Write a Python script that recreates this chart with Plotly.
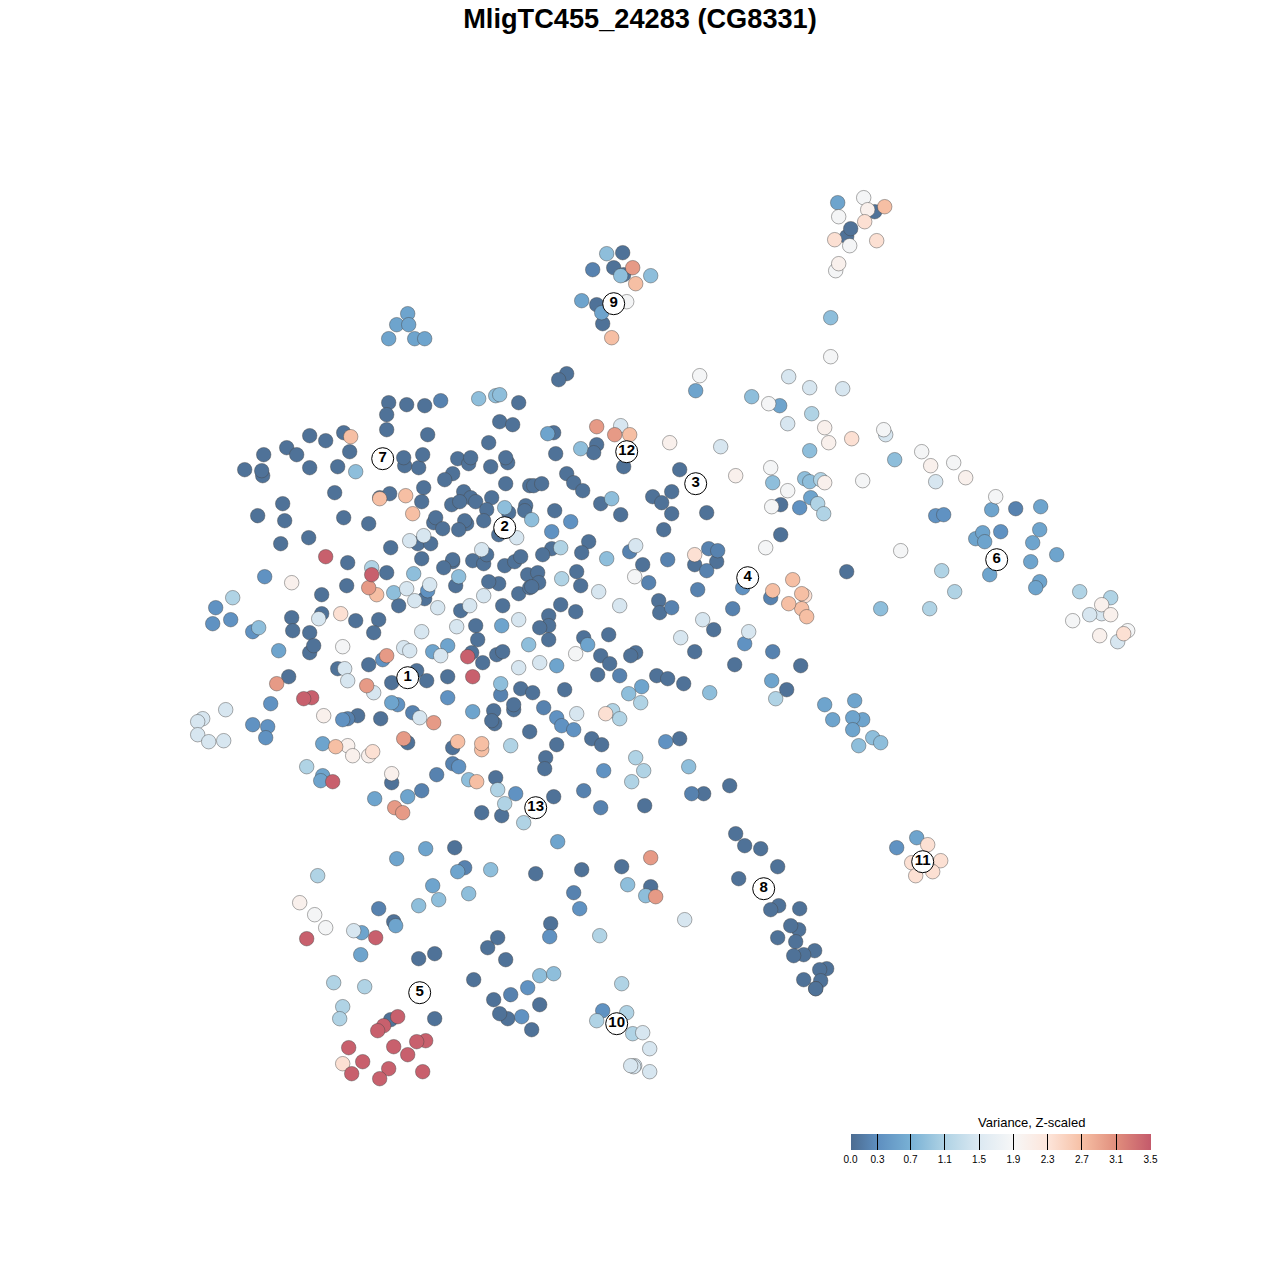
import plotly.graph_objects as go

title_text = "MligTC455_24283 (CG8331)"
legend_title = "Variance, Z-scaled"
tick_values = [0.0, 0.315, 0.7, 1.1, 1.5, 1.9, 2.3, 2.7, 3.1, 3.5]
tick_labels = ["0.0", "0.3", "0.7", "1.1", "1.5", "1.9", "2.3", "2.7", "3.1", "3.5"]

# (tSNE x, tSNE y) of the cells, grouped by variance
dark_cells = [(388,402),(406,404),(424,405),(386,414),(386,429),(427,434),(309,435),(325,440),(343,432),(349,451),(286,447),(296,454),(263,454),(244,469),(262,475),(261,470),(309,467),(337,466),(334,492),(282,503),(257,515),(284,520),(343,517),(368,523),(308,537),(280,543),(404,465),(403,457),(418,467),(422,454),(457,458),(468,463),(470,457),(490,466),(507,462),(505,457),(488,442),(499,421),(512,424),(518,402),(452,473),(444,479),(423,487),(379,497),(389,493),(421,501),(505,483),(463,491),(470,497),(451,504),(459,501),(475,501),(491,497),(486,509),(525,505),(524,510),(529,485),(508,512),(433,522),(435,517),(442,528),(466,523),(464,520),(458,529),(483,520),(498,534),(417,543),(430,543),(390,547),(421,558),(452,561),(452,559),(443,567),(472,560),(483,563),(486,554),(504,565),(514,561),(520,556),(527,574),(537,572),(347,562),(386,572),(346,585),(321,594),(498,583),(488,581),(518,593),(529,587),(455,585),(424,598),(398,605),(460,610),(502,605),(291,617),(321,613),(355,620),(378,619),(292,630),(309,632),(373,632),(475,625),(477,639),(309,652),(313,645),(496,654),(502,651),(471,652),(482,662),(368,664),(337,668),(416,670),(288,676),(391,682),(426,680),(447,676),
 (553,432),(555,453),(596,444),(593,452),(623,466),(566,473),(573,482),(582,490),(533,485),(541,483),(600,503),(620,514),(554,510),(679,469),(671,491),(652,496),(661,502),(671,513),(706,512),(663,529),(588,541),(581,552),(551,548),(542,554),(642,564),(694,564),(716,561),(576,571),(580,585),(538,582),(531,586),(658,600),(659,612),(713,629),(694,651),(734,664),(560,604),(575,611),(548,615),(548,625),(539,627),(548,639),(608,634),(583,637),(600,655),(609,663),(597,674),(635,652),(630,655),(656,675),(667,678),(683,683),
 (520,688),(532,692),(564,689),(493,710),(513,709),(513,704),(494,723),(491,720),(529,731),(591,738),(601,744),(679,738),(556,744),(545,757),(544,768),(495,777),(481,812),(501,815),(553,796),(644,805),(703,793),(729,785),(735,833),(744,845),(760,848),(777,866),(738,878),(778,905),(770,909),(799,908),(798,929),(790,925),(777,937),(795,941),(814,950),(803,954),(793,955),(826,968),(819,969),(803,979),(820,980),(815,988),(815,988),
 (380,718),(357,715),(452,747),(407,742),(454,847),(535,873),(581,869),(621,866),(650,886),(550,923),(497,937),(487,947),(505,959),(434,953),(418,958),(473,979),(493,999),(539,1004),(507,1018),(499,1013),(531,1029),(434,1018),(390,1019),(393,921),(566,373),(558,379),(602,323),(622,252),(613,267),(623,274),(596,304),(874,211),(846,236),(850,228),(846,571),(780,504),(780,534),(800,665),(786,689),(391,782)]
steel_cells = [(440,400),(347,718),(412,712),(436,774),(452,763),(421,790),(464,867),(378,908),(510,994),(573,892),(583,790),(600,807),(691,793),(543,707),(619,675),(629,551),(667,559),(708,548),(717,550),(706,570),(648,582),(697,589),(671,607),(732,608),(770,597),(1015,508),(592,269),(500,694),(772,651)]
blue_cells = [(264,576),(215,607),(212,623),(230,619),(252,631),(427,590),(382,659),(270,703),(252,724),(267,726),(265,737),(342,719),(397,704),(447,697),(458,766),(515,793),(556,717),(561,725),(573,729),(665,741),(603,770),(570,521),(551,531),(742,587),(744,643),(799,507),(935,515),(943,514),(1000,531),(896,847),(602,1010),(549,936),(579,908),(521,1016),(527,987)]
mid_cells = [(278,650),(432,651),(447,645),(501,625),(391,702),(472,711),(322,775),(320,780),(374,798),(407,796),(425,848),(556,665),(641,686),(547,433),(695,390),(779,405),(810,497),(771,680),(581,300),(407,313),(396,324),(408,324),(388,338),(414,338),(424,338),(601,312),(837,202),(991,509),(975,538),(982,532),(984,541),(1039,529),(1032,542),(1030,561),(1056,554),(989,574),(1039,581),(1035,587),(824,704),(854,700),(832,719),(862,719),(852,717),(852,729),(916,837),(457,871),(432,885),(396,858),(395,925),(361,932),(360,954),(557,841),(587,644),(322,743),(1040,506)]
sky_cells = [(393,592),(355,471),(413,573),(458,576),(504,507),(478,398),(495,395),(499,394),(528,644),(258,627),(531,519),(611,498),(580,448),(606,558),(500,683),(628,693),(709,692),(688,766),(468,779),(490,869),(438,899),(418,905),(468,893),(539,975),(553,973),(606,253),(620,275),(650,275),(751,396),(772,482),(804,478),(809,481),(809,450),(894,459),(880,608),(858,745),(872,737),(880,742),(830,317),(627,884),(645,895)]
pale_cells = [(232,597),(371,567),(560,547),(561,578),(612,710),(619,718),(640,702),(510,745),(497,789),(504,803),(523,822),(635,757),(643,770),(631,781),(306,766),(820,479),(817,503),(823,513),(941,570),(954,591),(929,608),(775,698),(1079,591),(1110,597),(811,413),(317,875),(333,982),(364,986),(342,1006),(339,1018),(599,935),(621,983),(626,1012),(596,1020),(632,1033)]
ice_cells = [(620,425),(409,540),(423,535),(516,537),(481,549),(406,588),(429,584),(414,600),(437,607),(483,595),(469,605),(518,619),(318,618),(456,626),(421,631),(403,647),(409,650),(440,655),(518,667),(344,668),(347,680),(373,692),(419,717),(225,709),(202,718),(197,721),(197,734),(208,741),(223,740),(598,591),(619,605),(702,619),(680,637),(748,631),(539,662),(635,545),(576,713),(353,930),(684,919),(642,1032),(649,1048),(634,1065),(633,1066),(630,1065),(649,1071),(885,434),(788,376),(809,387),(842,388),(787,423),(720,446),(935,481),(1101,613),(1089,614),(1117,641)]
white_cells = [(342,646),(634,576),(575,653),(626,301),(699,375),(830,356),(768,403),(883,429),(921,451),(953,462),(770,467),(787,490),(862,480),(771,506),(765,547),(900,550),(995,496),(1072,620),(838,216),(863,197),(849,245),(835,270),(314,914),(325,927),(1127,630)]
cream_cells = [(291,582),(323,715),(347,745),(352,755),(368,755),(391,773),(735,475),(824,427),(828,442),(930,465),(965,477),(824,482),(669,442),(299,902),(1101,604),(1110,614),(1099,635),(838,263),(867,209)]
peach_cells = [(372,751),(694,554),(605,713),(851,438),(804,595),(864,221),(834,239),(876,240),(927,844),(940,860),(911,862),(932,871),(915,875),(1123,633),(342,1063),(340,613)]
salmon_cells = [(350,436),(379,498),(405,495),(412,513),(376,594),(476,781),(481,749),(481,743),(457,741),(801,608),(772,590),(792,579),(801,593),(788,603),(806,616),(884,206),(635,283),(611,337),(629,434),(335,746)]
coral_cells = [(368,587),(386,655),(276,683),(366,685),(433,722),(403,738),(394,807),(402,812),(596,426),(614,434),(632,267),(650,857),(655,896)]
red_cells = [(371,574),(325,556),(311,697),(303,698),(467,656),(472,676),(332,781),(306,938),(375,937),(397,1016),(383,1025),(377,1030),(348,1047),(393,1046),(425,1040),(416,1041),(407,1054),(362,1061),(351,1073),(388,1068),(379,1078),(422,1071)]

dark_value, steel_value, blue_value, mid_value = 0.05, 0.2, 0.35, 0.55
sky_value, pale_value, ice_value, white_value = 0.85, 1.1, 1.45, 1.85
cream_value, peach_value, salmon_value, coral_value, red_value = 2.05, 2.35, 2.7, 3.0, 3.45

cluster_ids = ["1","2","3","4","5","6","7","8","9","10","11","12","13"]
cluster_x = [407,504,695,747,419,996,382,763,613,616,922,626,535]
cluster_y = [677,527,483,577,992,559,458,888,303,1023,861,451,807]

groups = [(dark_cells, dark_value), (steel_cells, steel_value), (blue_cells, blue_value),
          (mid_cells, mid_value), (sky_cells, sky_value), (pale_cells, pale_value),
          (ice_cells, ice_value), (white_cells, white_value),
          (cream_cells, cream_value), (peach_cells, peach_value), (salmon_cells, salmon_value),
          (coral_cells, coral_value), (red_cells, red_value)]
xs, ys, zs = [], [], []
for cells, value in groups:
    for a, b in cells:
        xs.append(a); ys.append(b); zs.append(value)

scale_positions = [v / 3.5 for v in tick_values]
scale_colors = ["#4C6C91", "#5E8FC0", "#79B1D5", "#B0D3E5", "#DCE9F2", "#F7F7F7",
                "#FDE5DA", "#F6BFA4", "#E08D7C", "#C45A6B"]
colorscale = [[p, c] for p, c in zip(scale_positions, scale_colors)]

FONT = "Liberation Sans, Arial, sans-serif"
fig = go.Figure()
fig.add_trace(go.Scatter(
    x=xs, y=ys, mode="markers", hoverinfo="skip", showlegend=False,
    marker=dict(size=14.5, color=zs, cmin=0, cmax=3.5, colorscale=colorscale,
                line=dict(color="rgba(70,70,70,0.45)", width=1),
                colorbar=dict(orientation="h", x=850.5/1280, xanchor="left", xref="paper",
                              y=1-1181/1280, yanchor="bottom", yref="paper",
                              lenmode="pixels", len=300, thickness=16,
                              thicknessmode="pixels", xpad=0, ypad=0, outlinewidth=0,
                              ticks="inside", ticklen=16, tickcolor="black", tickwidth=1,
                              tickmode="array", tickvals=tick_values, ticktext=tick_labels,
                              tickfont=dict(size=10, color="black", family=FONT)))))
fig.add_trace(go.Scatter(
    x=cluster_x, y=cluster_y, mode="markers+text", text=cluster_ids,
    textposition="middle center", hoverinfo="skip", showlegend=False,
    textfont=dict(size=15, color="black", family=FONT, weight="bold"),
    marker=dict(size=22, color="white", line=dict(color="black", width=1))))
fig.update_layout(
    width=1280, height=1280, margin=dict(l=0, r=0, t=0, b=0),
    paper_bgcolor="white", plot_bgcolor="white",
    xaxis=dict(range=[-0.7, 1279.3], visible=False, fixedrange=True),
    yaxis=dict(range=[1279.3, -0.7], visible=False, fixedrange=True),
    title=dict(text="<b>" + title_text + "</b>", x=0.5, xanchor="center",
               y=1-18/1280, yanchor="middle",
               font=dict(size=27.2, color="black", family=FONT)),
    annotations=[dict(text=legend_title, x=1031.5/1280, y=1-1122.5/1280, xref="paper", yref="paper",
                      showarrow=False, xanchor="center", yanchor="middle",
                      font=dict(size=13, color="black", family=FONT))])
fig.write_html("out.html", config=dict(displayModeBar=False),
               post_script="document.body.style.margin='0';document.documentElement.style.overflow='hidden';")
